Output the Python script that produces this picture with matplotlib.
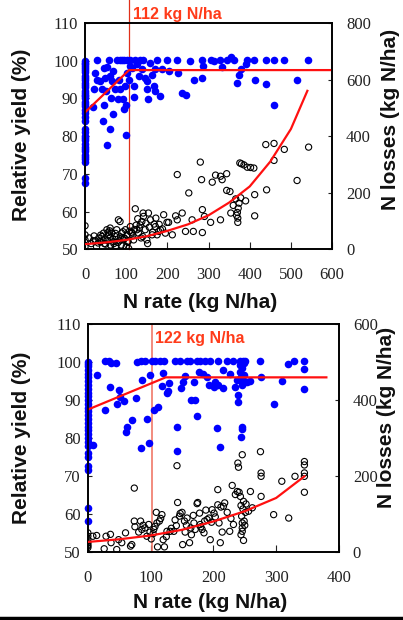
import matplotlib as mpl
import matplotlib.pyplot as plt
import numpy as np

# ---- data ----
# top panel: relative yield (blue) and N losses (black), x = N rate
top_blue_x = [0]*40 + [30, 24, 22, 19, 28, 37, 41, 45, 43, 49, 51, 54, 53, 57, 61, 63, 65, 69, 73, 69,
              77, 79, 82, 85, 89, 92, 95, 98, 99, 102, 103, 100, 106, 108, 118, 119, 122, 126, 130, 134,
              138, 142, 146, 150, 150, 154, 159, 163, 167, 171, 175, 171, 181, 187, 199, 203, 224, 225, 236, 246,
              256, 264, 285, 285, 287, 305, 313, 329, 332, 346, 355, 362, 370, 374, 378, 390, 394, 411, 412, 439,
              439, 458, 459, 484, 516, 542, 84, 94, 110, 114, 60, 45]
top_blue_y = [100, 99.5, 99, 98.5, 98, 97.5, 97, 96, 95.5, 95, 94, 93.5, 93, 92, 91.5, 91, 90.5, 90, 89, 88.5,
              88, 87, 86, 85, 84, 82, 81, 80, 79.5, 79, 78, 77, 76.5, 76, 75, 74.5, 74, 73, 69, 67.5,
              100.2, 96.8, 92.4, 87.8, 95, 94.6, 92.4, 88.2, 84, 95.5, 92, 77.6, 98.2, 100.2, 81.8, 90.2, 94.6, 85.8, 92.4, 97.3,
              100.2, 89.8, 95, 92.4, 100.2, 89.8, 87.1, 93.3, 80.4, 100.2, 96.8, 88.2, 95, 98.6, 90.4, 93.3, 100.2, 99, 96, 100.2,
              97.7, 100.2, 95.5, 94.6, 92.6, 89.8, 99.4, 96.1, 93.3, 97.7, 100.2, 92, 90.6, 97.7, 100.2, 97.3, 100.2, 96.8, 91.5, 90.8,
              99.9, 95, 100.2, 95.5, 98.6, 100.2, 99.9, 100.2, 98.2, 100.2, 101, 100.2, 94.2, 96.1, 97.7, 99, 100.2, 100.2, 95, 100.2,
              93.7, 88.2, 100.2, 100.2, 95, 100.2, 100.2, 100.2, 100.2, 98, 96, 98]

top_black_x = [0, 0, 0, 0, 22, 28, 33, 37, 41, 45, 49, 53, 57, 61, 65, 69, 73, 77, 81, 85,
               89, 93, 98, 100, 102, 106, 110, 114, 118, 122, 126, 130, 134, 138, 141, 142, 146, 150, 154, 159,
               163, 168, 171, 175, 179, 183, 191, 195, 199, 203, 212, 220, 224, 224, 236, 244, 252, 260, 263, 280,
               283, 285, 285, 290, 305, 309, 317, 329, 329, 333, 344, 344, 352, 354, 360, 366, 371, 371, 374, 376,
               378, 380, 386, 390, 394, 402, 410, 412, 412, 439, 441, 459, 459, 484, 515, 543,
               10, 15, 20, 47, 55, 62, 70, 84, 90, 104, 112, 120, 136, 152, 370, 372, 368,
               25, 32, 38, 44, 50, 56, 62, 68, 74, 80, 86, 92, 96, 104, 108, 116, 124, 132, 140, 148,
               156, 164, 172, 180, 188, 60, 75, 88, 95, 128]
top_black_y = [83, 51, 33, 9, 47, 9, 39, 27, 45, 57, 36, 69, 51, 75, 57, 27, 45, 69, 104, 98,
               57, 33, 69, 9, 51, 3, 80, 57, 33, 143, 69, 57, 86, 98, 128, 116, 69, 33, 128, 104,
               51, 89, 80, 51, 63, 69, 122, 57, 95, 95, 51, 118, 264, 104, 128, 63, 199, 104, 63, 308,
               246, 140, 59, 116, 95, 237, 262, 258, 104, 246, 267, 208, 204, 128, 155, 178, 110, 95, 163, 305,
               182, 302, 298, 171, 290, 289, 287, 193, 118, 370, 210, 374, 314, 353, 243, 361,
               40, 20, 30, 20, 30, 15, 20, 30, 40, 25, 60, 70, 40, 20, 130, 145, 120,
               30, 22, 50, 32, 18, 60, 42, 35, 56, 24, 44, 62, 38, 28, 64, 48, 85, 75, 45, 92,
               78, 60, 110, 88, 72, 65, 12, 15, 40, 108]

# fitted curves (values read at a few x positions)
top_plateau_x = [0, 107, 600]
top_plateau_y = [86.3, 97.5, 97.5]
top_curve_x = [0, 50, 100, 150, 200, 250, 300, 350, 400, 450, 500, 540]
top_curve_y = [18, 24, 33, 46, 65, 88, 120, 165, 222, 310, 425, 560]

# bottom panel
bot_blue_x = [0]*30 + [8, 14, 28, 28, 33, 35, 37, 45, 46, 49, 51, 57, 60, 62, 70, 76, 78, 84, 85, 86,
              91, 94, 98, 99, 102, 105, 107, 111, 115, 118, 120, 121, 126, 127, 130, 139, 142, 142, 147, 149,
              152, 154, 158, 163, 164, 169, 171, 174, 174, 177, 179, 183, 187, 190, 193, 195, 201, 203, 206, 207,
              208, 211, 215, 216, 221, 227, 232, 235, 238, 239, 239, 242, 243, 243, 244, 246, 246, 246, 246, 244,
              248, 249, 251, 254, 259, 275, 276, 296, 310, 319, 329, 345, 345, 345, 245, 247, 250, 242]
bot_blue_y = [100, 99.5, 99, 98, 97, 96, 95, 94, 93, 92, 91, 90, 89, 88, 87, 86, 85, 84, 83, 82,
              81, 80, 79, 78, 76, 75, 72.5, 71.5, 61.5, 58,
              78.2, 96.7, 100.3, 87.4, 100.4, 93.4, 99.7, 99.7, 89.1, 92.6, 90.7, 89.8, 81.7, 83, 84.8, 90.6, 100.1, 100.3, 77.4, 95.3,
              100.3, 84.9, 78.6, 96.6, 100.4, 87.4, 100.3, 88.3, 100.4, 93.8, 97.1, 100.3, 92, 92.4, 94.6, 100.4, 83, 76.6, 100.4, 93.1,
              94.8, 96.3, 100.4, 100.4, 90, 94.8, 90, 85.7, 100.4, 97.5, 100.4, 96.9, 100.4, 96.2, 94, 100.4, 93.4, 94.8, 82.6, 100.4,
              94, 77.7, 93.1, 97.9, 100.4, 96.8, 100.4, 93.5, 95.3, 91.3, 89.4, 100.4, 99.2, 97.5, 96.2, 94.8, 94, 83, 82.3, 80.2,
              99.7, 96.6, 94.8, 94.8, 95.1, 100.4, 96, 89.1, 95.1, 99.5, 100.4, 100.4, 98.1, 92.8, 98.5, 100.4, 100.4, 95.5]

bot_black_x = [0, 0, 0, 0, 0, 0, 0, 8, 14, 26, 29, 36, 37, 46, 49, 54, 60, 68, 70, 74,
               74, 75, 81, 84, 86, 91, 94, 97, 99, 101, 105, 107, 109, 110, 111, 114, 118, 120, 122, 126,
               131, 137, 141, 142, 143, 146, 147, 150, 151, 154, 155, 158, 162, 164, 169, 171, 174, 175, 178, 179,
               182, 186, 190, 193, 195, 198, 201, 203, 207, 207, 209, 211, 214, 216, 218, 226, 230, 232, 235, 238,
               239, 240, 241, 243, 244, 245, 246, 246, 246, 246, 247, 248, 249, 251, 256, 259, 275, 276, 276, 276,
               296, 309, 320, 330, 345, 345, 345, 345, 345, 244, 248, 250, 125, 165, 185,
               88, 104, 116, 133, 139, 157, 168, 180, 188, 197, 212, 222, 228, 252, 262]
bot_black_y = [50, 41, 32, 24, 15, 11, 19, 41, 43, 8, 41, 46, 24, 6, 32, 24, 50, 15, 19, 168,
               81, 66, 52, 81, 59, 63, 41, 72, 52, 34, 59, 67, 104, 76, 13, 81, 98, 32, 13, 54,
               54, 54, 69, 227, 130, 94, 101, 104, 19, 81, 52, 89, 24, 63, 76, 59, 127, 130, 102, 72,
               59, 81, 85, 89, 32, 111, 102, 92, 164, 124, 76, 24, 52, 120, 129, 54, 175, 72, 151, 159,
               234, 223, 157, 146, 122, 94, 76, 63, 54, 256, 113, 133, 81, 104, 107, 159, 264, 208, 199, 146,
               98, 186, 89, 199, 238, 229, 208, 199, 157, 45, 30, 70, 40, 45, 50,
               70, 48, 88, 62, 84, 70, 96, 66, 110, 78, 118, 104, 88, 126, 116]

bot_plateau_x = [0, 124, 380]
bot_plateau_y = [87.5, 96, 96]
bot_curve_x = [0, 50, 100, 150, 200, 250, 300, 345]
bot_curve_y = [26, 33, 43, 58, 80, 107, 142, 199]

# ---- style ----
mpl.rcParams['font.family'] = ['Liberation Serif', 'DejaVu Serif']
mpl.rcParams['font.size'] = 12
mpl.rcParams['axes.linewidth'] = 1.2

RED = '#FF1010'
LBL = dict(family='Liberation Sans', weight='bold', size=15, color='#111111')

fig = plt.figure(figsize=(4.03, 6.2), dpi=100)


def panel(rect, xmax, rmax, rticks, xticks):
  ax = fig.add_axes(rect)
  ax.set_xlim(0, xmax)
  ax.set_ylim(50, 110)
  ax.set_yticks(range(50, 111, 10))
  ax.set_xticks(xticks)
  ax.tick_params(axis='y', direction='in', length=3, pad=5, colors='#222222')
  ax.tick_params(axis='x', direction='in', length=5, pad=13, colors='#222222')
  ax2 = ax.twinx()
  ax2.set_ylim(0, rmax)
  ax2.set_yticks(rticks)
  ax2.tick_params(axis='y', direction='in', length=3, pad=10, colors='#222222')
  for a in (ax, ax2):
    for s in a.spines.values():
      s.set_color('black')
  return ax, ax2


# top panel
ax, ax2 = panel([0.211, 0.598, 0.613, 0.365], 600, 800, range(0, 801, 200), range(0, 601, 100))
ax.scatter(top_blue_x, top_blue_y, s=30, color='#0000FF', linewidths=0, zorder=3, clip_on=False)
ax2.scatter(top_black_x, top_black_y, s=20, facecolors='none', edgecolors='black', linewidths=0.8, zorder=3)
ax.plot(top_plateau_x, top_plateau_y, color=RED, lw=1.6, zorder=4)
ax2.plot(top_curve_x, top_curve_y, color=RED, lw=1.6, zorder=4)
ax.axvline(107, ymin=0, ymax=1.105, color='#E0301A', lw=0.9, clip_on=False, zorder=2)
fig.text(133/403, 1 - 14/620, '112 kg N/ha', color='#FF3B1A', family='Liberation Sans',
         weight='bold', size=11.5, ha='left', va='center')

# bottom panel
bx, bx2 = panel([0.218, 0.110, 0.623, 0.367], 400, 600, range(0, 601, 200), range(0, 401, 100))
bx.scatter(bot_blue_x, bot_blue_y, s=30, color='#0000FF', linewidths=0, zorder=3, clip_on=False)
bx2.scatter(bot_black_x, bot_black_y, s=20, facecolors='none', edgecolors='black', linewidths=0.8, zorder=3)
bx.plot(bot_plateau_x, bot_plateau_y, color=RED, lw=1.6, zorder=4)
bx2.plot(bot_curve_x, bot_curve_y, color=RED, lw=1.6, zorder=4)
bx.axvline(102, color='#F07868', lw=1.2, zorder=2)
fig.text(155/403, 1 - 339/620, '122 kg N/ha', color='#FF3B1A', family='Liberation Sans',
         weight='bold', size=11.5, ha='left', va='center')

# axis labels
fig.text(22/403, 1 - 135/620, 'Relative yield (%)', rotation=90, ha='center', va='center', **LBL)
fig.text(390/403, 1 - 119/620, 'N losses (kg N/ha)', rotation=90, ha='center', va='center', **LBL)
fig.text(200/403, 1 - 302/620, 'N rate (kg N/ha)', ha='center', va='center', **LBL)
fig.text(22/403, 1 - 438/620, 'Relative yield (%)', rotation=90, ha='center', va='center', **LBL)
fig.text(387/403, 1 - 417/620, 'N losses (kg N/ha)', rotation=90, ha='center', va='center', **LBL)
fig.text(210/403, 1 - 603/620, 'N rate (kg N/ha)', ha='center', va='center', **LBL)

# black rule along the bottom edge
fig.add_artist(mpl.lines.Line2D([0, 1], [1 - 618/620] * 2, color='black', lw=2.5, transform=fig.transFigure))

fig.savefig('out.png', dpi=100)
